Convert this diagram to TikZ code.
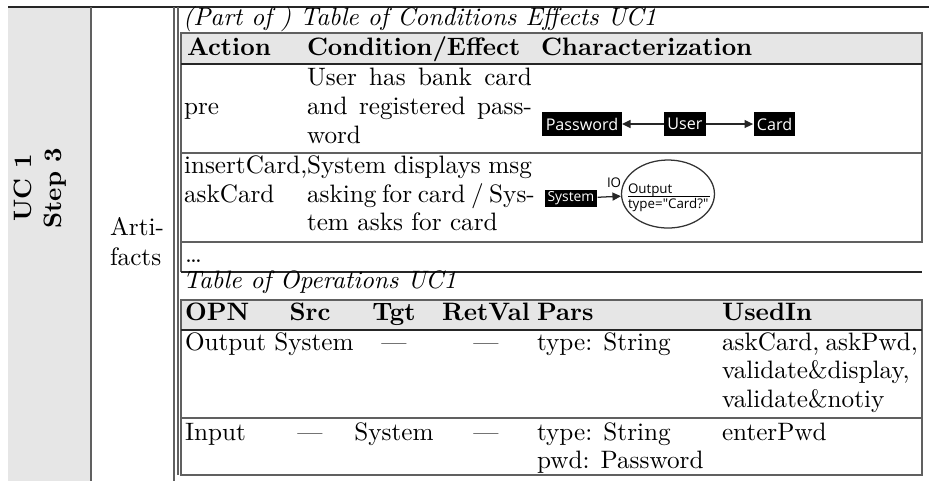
\documentclass[tikz,border=0pt]{standalone}
\usepackage{fontspec}
\newfontfamily\boxfont{Open Sans}
\usetikzlibrary{arrows.meta,shapes.geometric}
\definecolor{hdrgray}{HTML}{E6E6E6}
\definecolor{rulegray}{HTML}{606060}
\begin{document}
\begin{tikzpicture}[x=0.397pt,y=-0.397pt,
  txt/.style={anchor=base west, inner sep=0pt, outer sep=0pt},
  ctxt/.style={anchor=base, inner sep=0pt, outer sep=0pt},
  blk/.style={fill=black, text=white, font=\boxfont\fontsize{6.4}{8}\selectfont, inner xsep=1.3pt, inner ysep=0pt, minimum height=9.5pt},
  sblk/.style={fill=black, text=white, font=\boxfont\fontsize{5.5}{6.5}\selectfont, inner xsep=1.1pt, inner ysep=0pt, minimum height=6.8pt},
  small/.style={txt, font=\boxfont\fontsize{5.3}{6.3}\selectfont},
  arr/.style={-{Triangle[length=3.4pt,width=3.2pt]}, line width=0.5pt, draw=black!85},
  rl/.style={draw=rulegray, line width=0.5pt},
  dl/.style={draw=black!85, line width=0.6pt}]
\useasboundingbox (0,0) rectangle (929,481);
% left columns
\fill[hdrgray] (8,7) rectangle (91,481);
\draw[dl] (8,7) -- (929,7);
\draw[rl] (91,7) -- (91,481);
\draw[rl] (174,7) -- (174,481);
\draw[rl] (178,7) -- (178,475);
\node[rotate=90, align=center, font=\bfseries, inner sep=0pt] (uc) at (40,188) {UC 1\\Step 3};
\node[txt] (arti) at (110,235) {Arti-};
\node[txt] (facts) at (110,265) {facts};
% table 1
\node[txt, font=\itshape] (cap1) at (183,25) {(Part of ) Table of Conditions Effects UC1};
\fill[hdrgray] (181,33) rectangle (922,64);
\draw[rl] (181,33) rectangle (922,242);
\draw[dl] (181,64) -- (922,64);
\draw[rl] (181,153) -- (922,153);
\draw[rl] (181,242) -- (181,272);
\draw[dl] (181,272) -- (922,272);
\node[txt, font=\bfseries] (h1) at (187,55) {Action};
\node[txt, font=\bfseries] (h2) at (307,55) {Condition/Effect};
\node[txt, font=\bfseries] (h3) at (541,55) {Characterization};
\node[txt] (pre) at (184,114.5) {pre};
\node[txt] (c1a) at (307,85.5) {\makebox[89.3pt][s]{User has bank card}};
\node[txt] (c1b) at (307,114.5) {\makebox[89.3pt][s]{and registered pass-}};
\node[txt] (c1c) at (307,143.5) {word};
\node[txt] (a2a) at (184,173) {insertCard,};
\node[txt] (a2b) at (184,202) {askCard};
\node[txt] (c2a) at (307,173) {\makebox[89.3pt][s]{System displays msg}};
\node[txt] (c2b) at (307,202) {\makebox[89.3pt][s]{asking for card / Sys-}};
\node[txt] (c2c) at (307,230) {tem asks for card};
\node[txt] (dots) at (185,262) {\ldots};
% diagrams
\node[blk] (pw) at (582,124) {Password};
\node[blk] (user) at (685,124) {User};
\node[blk] (card) at (774.5,124) {Card};
\draw[arr] (user) -- (pw);
\draw[arr] (user) -- (card);
\node[sblk] (sys) at (571,198.5) {System};
\node[ellipse, draw=black!80, line width=0.5pt, minimum width=36.9pt, minimum height=27pt, inner sep=0pt] (out) at (668,194) {};
\draw[arr] (sys) -- (out);
\node[small] (io) at (607,187) {IO};
\node[small] (outt) at (628,193) {Output};
\node[small] (typ) at (628,208) {type="Card?"};
\coordinate (ul1) at (628,196.5);
\coordinate (ul2) at (710,196.5);
\draw[line width=0.4pt] (ul1) -- (ul2);
% table 2
\node[txt, font=\itshape] (cap2) at (183,288) {Table of Operations UC1};
\fill[hdrgray] (181,300) rectangle (922,330);
\draw[rl] (181,300) rectangle (922,475);
\draw[dl] (181,330) -- (922,330);
\draw[rl] (181,418) -- (922,418);
\node[txt, font=\bfseries] (t1) at (185,320) {OPN};
\node[ctxt, font=\bfseries] (t2) at (310,320) {Src};
\node[ctxt, font=\bfseries] (t3) at (394,320) {Tgt};
\node[ctxt, font=\bfseries] (t4) at (486,320) {RetVal};
\node[txt, font=\bfseries] (t5) at (537,320) {Pars};
\node[txt, font=\bfseries] (t6) at (722,320) {UsedIn};
\node[txt] (o1) at (185,350) {Output};
\node[ctxt] (o2) at (314,350) {System};
\node[ctxt] (o3) at (394,350) {---};
\node[ctxt] (o4) at (486,350) {---};
\node[txt] (o5) at (537,350) {type: String};
\node[txt] (o6a) at (722,350) {\makebox[76.6pt][s]{askCard, askPwd,}};
\node[txt] (o6b) at (722,378) {validate\&display,};
\node[txt] (o6c) at (722,407) {validate\&notiy};
\node[txt] (i1) at (185,440) {Input};
\node[ctxt] (i2) at (310,440) {---};
\node[ctxt] (i3) at (394,440) {System};
\node[ctxt] (i4) at (486,440) {---};
\node[txt] (i5) at (537,440) {type: String};
\node[txt] (i5b) at (537,468) {pwd: Password};
\node[txt] (i6) at (722,440) {enterPwd};
\end{tikzpicture}
\end{document}
